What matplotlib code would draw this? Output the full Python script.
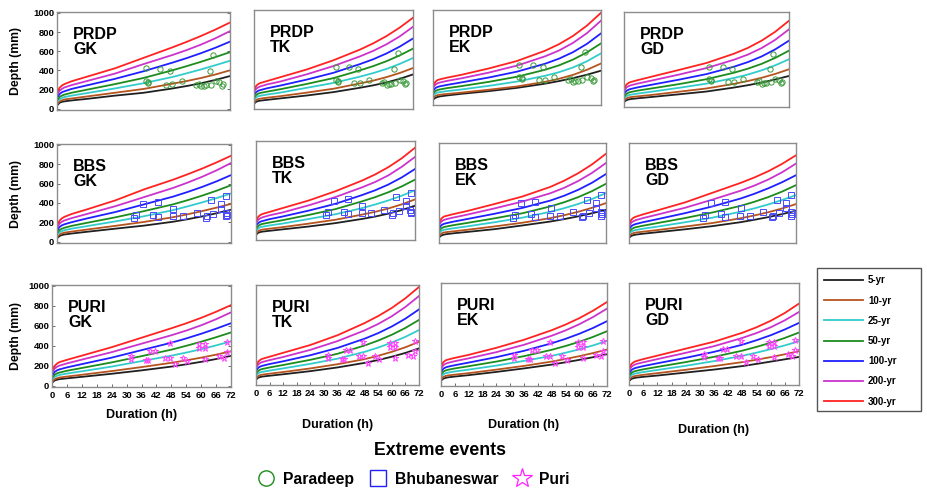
import matplotlib
matplotlib.use('Agg')
import matplotlib.pyplot as plt
from matplotlib.lines import Line2D
from matplotlib.patches import Rectangle

plt.rcParams['font.family'] = ['Liberation Sans', 'DejaVu Sans']
plt.rcParams['font.weight'] = 'bold'

# ---------------- data ----------------
durations = [0.5, 1, 2, 3, 6, 12, 24, 36, 48, 54, 60, 66, 72]
return_periods = ['5-yr', '10-yr', '25-yr', '50-yr', '100-yr', '200-yr', '300-yr']
rp_colors = ['#202020', '#b5541f', '#33cccc', '#1c8c1c', '#1f1fff', '#cc33cc', '#ff2222']
stations = ['PRDP', 'BBS', 'PURI']
methods = ['GK', 'TK', 'EK', 'GD']
xticks = list(range(0, 73, 6))
yticks = [0, 200, 400, 600, 800, 1000]

# depth (mm) per return period (5-yr ... 300-yr) at the durations above
prdp_gk = [[45, 60, 70, 75, 85, 100, 135, 165, 210, 236, 265, 300, 340],
           [60, 75, 85, 95, 105, 125, 165, 205, 260, 288, 320, 357, 400],
           [80, 95, 110, 120, 135, 160, 210, 265, 330, 369, 410, 454, 500],
           [100, 120, 135, 145, 165, 195, 255, 320, 400, 444, 490, 539, 590],
           [130, 150, 170, 180, 205, 240, 310, 390, 480, 528, 580, 637, 700],
           [160, 185, 205, 220, 245, 285, 365, 465, 560, 612, 670, 736, 810],
           [190, 215, 240, 255, 285, 330, 420, 530, 640, 698, 760, 827, 900]]
prdp_tk = [[50, 60, 68, 72, 80, 95, 125, 160, 205, 230, 260, 297, 343],
           [65, 78, 88, 93, 102, 118, 155, 195, 250, 279, 315, 358, 409],
           [90, 105, 118, 123, 135, 155, 205, 255, 320, 357, 400, 452, 513],
           [115, 130, 145, 152, 165, 190, 245, 305, 385, 429, 480, 540, 610],
           [145, 160, 175, 182, 200, 228, 290, 360, 450, 500, 560, 631, 715],
           [175, 195, 210, 220, 240, 270, 345, 430, 530, 587, 655, 737, 836],
           [200, 225, 245, 255, 275, 315, 395, 490, 600, 665, 740, 828, 930]]
prdp_ek = [[52, 62, 72, 78, 88, 105, 135, 170, 215, 243, 275, 312, 355],
           [70, 82, 92, 96, 104, 118, 150, 185, 235, 268, 310, 365, 433],
           [95, 108, 120, 124, 135, 152, 192, 238, 300, 339, 390, 457, 542],
           [120, 135, 148, 153, 167, 188, 235, 290, 365, 413, 475, 553, 650],
           [150, 168, 180, 187, 202, 228, 282, 345, 430, 485, 555, 645, 758],
           [185, 205, 220, 228, 245, 272, 335, 410, 510, 573, 655, 761, 895],
           [210, 235, 255, 262, 280, 310, 380, 460, 570, 641, 730, 842, 980]]
prdp_gd = [[48, 58, 66, 71, 79, 93, 122, 152, 195, 220, 248, 282, 320],
           [65, 77, 87, 92, 100, 115, 150, 185, 235, 265, 300, 342, 392],
           [88, 100, 113, 118, 130, 150, 192, 237, 298, 335, 380, 435, 500],
           [110, 125, 140, 147, 162, 185, 232, 285, 355, 398, 450, 515, 593],
           [140, 158, 172, 180, 197, 225, 280, 340, 420, 469, 530, 607, 701],
           [170, 195, 210, 220, 238, 270, 335, 405, 495, 550, 620, 710, 823],
           [200, 225, 245, 255, 275, 312, 385, 460, 560, 622, 700, 797, 916]]
bbs_gk = [[45, 57, 67, 73, 83, 100, 133, 165, 205, 231, 260, 293, 329],
          [60, 73, 84, 92, 103, 123, 162, 203, 252, 282, 315, 351, 390],
          [80, 95, 108, 117, 133, 158, 208, 262, 325, 364, 405, 450, 498],
          [100, 118, 133, 142, 162, 192, 250, 315, 385, 428, 475, 526, 583],
          [130, 150, 168, 178, 200, 237, 305, 385, 465, 513, 565, 623, 688],
          [160, 185, 205, 218, 242, 283, 365, 460, 555, 610, 670, 737, 813],
          [190, 215, 240, 255, 285, 330, 425, 540, 640, 696, 755, 819, 888]]
bbs_tk = [[50, 60, 68, 72, 80, 95, 125, 160, 203, 228, 258, 295, 340],
          [65, 78, 88, 93, 102, 118, 155, 195, 248, 277, 312, 354, 405],
          [90, 105, 118, 123, 135, 155, 203, 252, 315, 353, 395, 444, 500],
          [115, 130, 145, 152, 165, 190, 245, 305, 385, 429, 480, 540, 610],
          [145, 160, 175, 182, 200, 228, 290, 360, 450, 500, 560, 633, 720],
          [175, 195, 210, 220, 240, 270, 345, 430, 530, 586, 655, 743, 845],
          [200, 225, 245, 255, 275, 315, 395, 490, 600, 664, 740, 831, 940]]
bbs_ek = [[52, 62, 70, 75, 84, 98, 127, 165, 205, 230, 258, 290, 325],
          [70, 82, 92, 96, 104, 120, 155, 193, 240, 270, 305, 346, 394],
          [95, 108, 120, 124, 135, 155, 198, 245, 305, 342, 385, 436, 497],
          [120, 135, 148, 153, 167, 190, 238, 290, 360, 403, 455, 517, 592],
          [150, 168, 180, 187, 203, 230, 285, 345, 420, 470, 530, 603, 692],
          [185, 205, 220, 228, 245, 275, 340, 410, 495, 551, 620, 704, 805],
          [210, 235, 255, 262, 280, 312, 385, 462, 560, 624, 700, 791, 900]]
bbs_gd = [[48, 58, 66, 71, 80, 95, 125, 158, 198, 223, 250, 281, 316],
          [65, 77, 87, 92, 101, 117, 153, 190, 238, 267, 300, 339, 384],
          [88, 100, 113, 118, 131, 152, 197, 245, 305, 340, 380, 425, 476],
          [110, 125, 140, 147, 162, 188, 240, 298, 365, 407, 455, 512, 578],
          [140, 158, 172, 180, 198, 228, 290, 360, 440, 489, 545, 608, 680],
          [170, 195, 210, 220, 240, 275, 345, 430, 520, 573, 635, 710, 799],
          [200, 225, 245, 255, 278, 318, 400, 500, 600, 656, 720, 796, 884]]
puri_gk = [[38, 50, 58, 64, 72, 87, 118, 152, 190, 213, 238, 266, 298],
           [50, 63, 73, 80, 90, 108, 145, 185, 228, 253, 280, 310, 344],
           [70, 85, 98, 106, 120, 143, 190, 245, 300, 331, 365, 403, 444],
           [90, 107, 122, 130, 148, 176, 232, 295, 360, 399, 440, 485, 533],
           [115, 135, 152, 162, 182, 215, 280, 355, 430, 473, 520, 571, 626],
           [145, 168, 188, 200, 222, 260, 335, 420, 505, 552, 605, 666, 735],
           [170, 195, 220, 235, 258, 300, 385, 480, 575, 625, 680, 741, 808]]
puri_tk = [[50, 60, 68, 72, 80, 95, 127, 165, 212, 241, 275, 314, 360],
           [65, 77, 87, 92, 101, 118, 155, 198, 250, 285, 325, 372, 428],
           [90, 104, 116, 121, 133, 155, 202, 255, 325, 369, 420, 479, 548],
           [115, 130, 144, 150, 165, 190, 243, 305, 390, 441, 500, 570, 652],
           [145, 162, 176, 183, 200, 228, 290, 365, 460, 517, 585, 665, 760],
           [175, 197, 213, 222, 240, 272, 345, 435, 545, 611, 690, 785, 897],
           [200, 225, 245, 255, 275, 315, 395, 495, 620, 692, 775, 874, 990]]
puri_ek = [[48, 58, 66, 71, 79, 93, 125, 160, 198, 221, 245, 272, 301],
           [63, 75, 85, 90, 98, 113, 148, 185, 228, 254, 282, 313, 348],
           [88, 101, 113, 118, 130, 148, 188, 235, 285, 316, 350, 389, 434],
           [112, 127, 140, 146, 160, 182, 228, 282, 345, 383, 425, 474, 530],
           [140, 157, 170, 177, 192, 218, 272, 335, 410, 454, 505, 563, 630],
           [172, 192, 207, 215, 232, 260, 322, 395, 485, 538, 600, 672, 755],
           [200, 222, 240, 248, 265, 295, 365, 445, 540, 596, 660, 735, 821]]
puri_gd = [[35, 46, 54, 59, 67, 80, 110, 140, 175, 197, 220, 243, 267],
           [50, 62, 72, 77, 87, 104, 138, 175, 215, 239, 265, 294, 325],
           [70, 84, 96, 102, 115, 136, 178, 225, 278, 310, 345, 383, 425],
           [90, 106, 120, 127, 142, 167, 215, 268, 330, 368, 410, 458, 512],
           [115, 135, 150, 158, 175, 203, 258, 318, 390, 435, 485, 543, 609],
           [145, 168, 185, 195, 213, 245, 308, 375, 458, 507, 565, 635, 719],
           [170, 195, 215, 225, 245, 280, 350, 420, 510, 565, 630, 709, 803]]

# observed extreme events (duration h, depth mm)
prdp_obs_d = [37, 37, 38, 38, 43, 47, 45.5, 48, 52, 58, 59, 60, 61, 62, 63.5, 64, 65, 66, 67.5, 68.5, 69]
prdp_obs_p = [420, 285, 275, 265, 415, 395, 250, 258, 290, 250, 262, 235, 240, 245, 395, 250, 560, 290, 280, 240, 255]
bbs_obs_d = [31.7, 32.6, 35.5, 39.7, 41.6, 41.6, 47.8, 48.2, 52, 57.9, 61.7, 62, 63.6, 64.7, 67.8, 67.9, 70, 69.8, 70, 70.2]
bbs_obs_p = [244, 271, 390, 278, 254, 407, 261, 339, 261, 298, 247, 264, 430, 288, 339, 390, 475, 298, 264, 280]
puri_obs_d = [31.7, 31.7, 37.8, 38.7, 39.6, 41.5, 45.4, 47.4, 47.4, 49.4, 52.5, 54.5, 59.3, 59.3, 61.4, 61.4, 61.4, 67.2, 69.2, 70.3, 70.3]
puri_obs_p = [295, 262, 255, 255, 344, 344, 281, 281, 427, 215, 281, 248, 420, 377, 420, 377, 262, 295, 281, 338, 437]

curves = {('PRDP', 'GK'): prdp_gk, ('PRDP', 'TK'): prdp_tk, ('PRDP', 'EK'): prdp_ek, ('PRDP', 'GD'): prdp_gd,
          ('BBS', 'GK'): bbs_gk, ('BBS', 'TK'): bbs_tk, ('BBS', 'EK'): bbs_ek, ('BBS', 'GD'): bbs_gd,
          ('PURI', 'GK'): puri_gk, ('PURI', 'TK'): puri_tk, ('PURI', 'EK'): puri_ek, ('PURI', 'GD'): puri_gd}
obs = {'PRDP': (prdp_obs_d, prdp_obs_p), 'BBS': (bbs_obs_d, bbs_obs_p), 'PURI': (puri_obs_d, puri_obs_p)}
obs_style = {'PRDP': dict(marker='o', color='#3a9a3a', ms=3.8),
             'BBS': dict(marker='s', color='#4a4aff', ms=3.8),
             'PURI': dict(marker='*', color='#ff40ff', ms=4.6)}

# ---------------- layout (pixel boxes: left, right, top, bottom) ----------------
W, H = 927, 490
boxes = [[(57, 230, 12, 110), (254, 413, 10, 109), (433, 601, 10, 105), (624, 789, 12, 107)],
         [(57, 231, 144, 243), (256, 415, 141, 240), (439, 606, 143, 243), (629, 796, 143, 243)],
         [(52, 231, 285, 387), (256, 419, 285, 385), (441, 607, 283, 386), (629, 799, 283, 385)]]
duration_label_y = [415, 425, 425, 430]

fig = plt.figure(figsize=(W / 100, H / 100), dpi=100)
frame_col = '#8c8c8c'
line_handles = None
for i, st in enumerate(stations):
    for j, me in enumerate(methods):
        l, r, t, b = boxes[i][j]
        ax = fig.add_axes([l / W, 1 - b / H, (r - l) / W, (b - t) / H])
        hs = []
        for k, rp in enumerate(return_periods):
            h, = ax.plot(durations, curves[(st, me)][k], color=rp_colors[k], lw=1.3, label=rp)
            hs.append(h)
        if line_handles is None:
            line_handles = hs
        d, p = obs[st]
        s = obs_style[st]
        ax.plot(d, p, ls='none', marker=s['marker'], ms=s['ms'], mfc='none', mec=s['color'], mew=0.7)
        ax.set_xlim(0, 72)
        ax.set_ylim(-15, 1010)
        for sp in ax.spines.values():
            sp.set_color(frame_col)
            sp.set_linewidth(1.0)
        ax.set_xticks(xticks)
        ax.set_yticks(yticks)
        ax.tick_params(direction='in', length=2, width=0.6, color='#555555', labelsize=6.8, pad=2)
        if j != 0:
            ax.tick_params(left=False, labelleft=False)
        else:
            ax.tick_params(right=True)
            for lab in ax.get_yticklabels():
                lab.set_fontweight('bold')
        if i != 2:
            ax.tick_params(bottom=False, labelbottom=False)
        else:
            for lab in ax.get_xticklabels():
                lab.set_fontweight('bold')
            ax.tick_params(axis='x', pad=3)
        ax.text(16 / (r - l), 1 - 15 / (b - t), st + '\n' + me, transform=ax.transAxes,
                ha='left', va='top', fontsize=11.5, fontweight='bold', linespacing=1.0)
        if j == 0:
            fig.text(16 / W, 1 - (t + b) / 2 / H, 'Depth (mm)', rotation=90, ha='center', va='center',
                     fontsize=8.8, fontweight='bold')
        if i == 2:
            fig.text((l + r) / 2 / W, 1 - duration_label_y[j] / H, 'Duration (h)', ha='center', va='center',
                     fontsize=9, fontweight='bold')

# return period legend
fig.patches.append(Rectangle((817 / W, 1 - 411 / H), 104 / W, 143 / H, transform=fig.transFigure,
                             facecolor='white', edgecolor='#555555', lw=1.0, zorder=1))
leg = fig.legend(handles=line_handles, labels=return_periods, loc='upper left',
                 bbox_to_anchor=(817 / W, 1 - 268 / H), borderaxespad=0,
                 handlelength=4.0, handletextpad=0.5, labelspacing=1.05, borderpad=0.75,
                 frameon=False, prop={'weight': 'bold', 'size': 7})
leg.set_zorder(2)

fig.text(440 / W, 1 - 450 / H, 'Extreme events', ha='center', va='center', fontsize=12.8, fontweight='bold')

ev_handles = [Line2D([], [], ls='none', marker='o', ms=11, mfc='none', mec='#1c8c1c', mew=1.0),
              Line2D([], [], ls='none', marker='s', ms=11, mfc='none', mec='#1f1fff', mew=1.0),
              Line2D([], [], ls='none', marker='*', ms=15, mfc='none', mec='#ff22ff', mew=0.9)]
fig.legend(handles=ev_handles, labels=['Paradeep', 'Bhubaneswar', 'Puri'], loc='center',
           bbox_to_anchor=(413 / W, 1 - 479 / H), ncol=3, frameon=False, handlelength=1.2,
           handletextpad=0.5, columnspacing=0.9, prop={'weight': 'bold', 'size': 11.3})

fig.savefig('out.png', dpi=100)
